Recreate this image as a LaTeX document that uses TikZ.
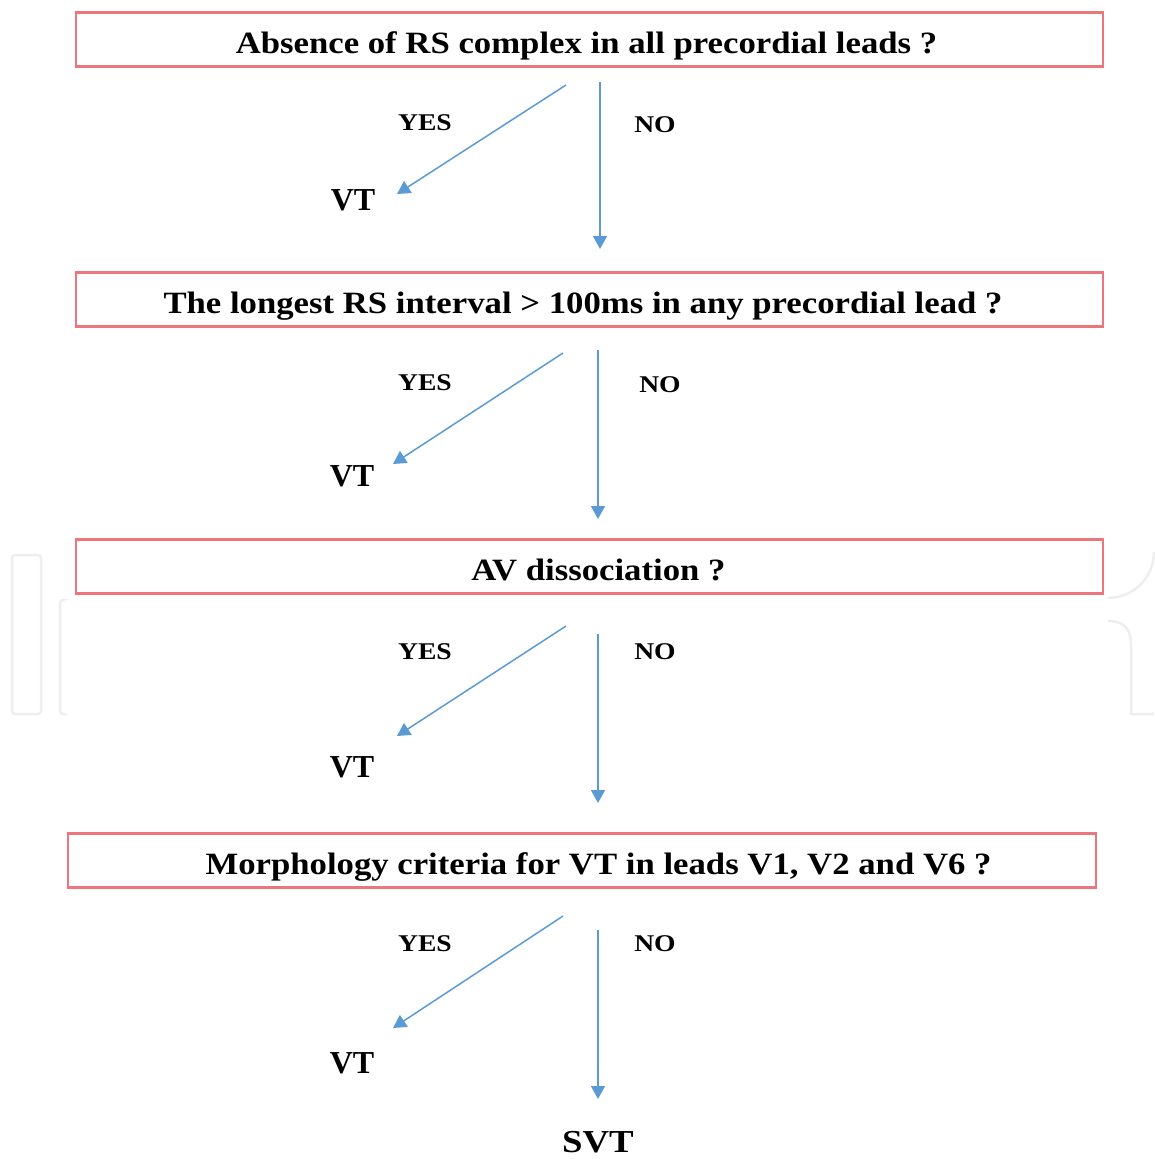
\documentclass[tikz,border=0pt]{standalone}
\usepackage{fontspec}
\setmainfont{Liberation Serif}
\usetikzlibrary{arrows.meta}
\definecolor{boxred}{RGB}{236,118,124}
\definecolor{arrblue}{RGB}{91,155,213}
\definecolor{wmgray}{RGB}{238,238,238}
\newcommand{\qtext}[2]{\rule[-2.6pt]{0pt}{33pt}\hspace*{#1}\smash{\scalebox{1.12}[1]{#2}}}
\newcommand{\wtext}[1]{\scalebox{1.15}[1]{#1}}
\tikzset{
  qbox/.style={draw=boxred, line width=2.4pt, minimum height=54pt, inner sep=0pt,
    font=\fontsize{31}{33}\selectfont\bfseries},
  arr/.style={draw=arrblue, line width=1.5pt, -{Triangle[width=14pt,length=13pt]}},
  lbl/.style={font=\fontsize{24}{26}\selectfont\bfseries, inner sep=0pt},
  res/.style={font=\fontsize{32}{34}\selectfont\bfseries, inner sep=0pt},
  wm/.style={draw=wmgray, line width=2.5pt, rounded corners=3pt}
}
\begin{document}
\begin{tikzpicture}[x=1pt,y=-1pt]
\useasboundingbox (0,0) rectangle (1154,1159);
% faint watermark
\draw[wm] (12,555) rectangle (41,714);
\draw[wm] (62,600) -- (60,600) -- (60,714) -- (62,714);
\draw[wm, rounded corners=0pt] (1108,598) arc[start angle=90, end angle=0, radius=46];
\draw[wm, rounded corners=0pt] (1108,621) .. controls (1125,621) and (1131,630) .. (1131,645) -- (1131,714) -- (1154,714);

% question boxes
\node[qbox, minimum width=1027pt] (q1) at (589.5,39.5) {\qtext{-6pt}{Absence of RS complex in all precordial leads ?}};
\node[qbox, minimum width=1027pt] (q2) at (589.5,299.5) {\qtext{-13pt}{The longest RS interval > 100ms in any precordial lead ?}};
\node[qbox, minimum width=1027pt] (q3) at (589.5,566.5) {\qtext{18pt}{AV dissociation ?}};
\node[qbox, minimum width=1028pt] (q4) at (582,860.5) {\qtext{33pt}{Morphology criteria for VT in leads V1, V2 and V6 ?}};

% results
\node[res] (vt1) at (353,200) {VT};
\node[res] (vt2) at (352,476) {VT};
\node[res] (vt3) at (352,767) {VT};
\node[res] (vt4) at (352,1063) {VT};
\node[res] (svt) at (598,1142) {\wtext{SVT}};

% labels
\node[lbl] (y1) at (425,123) {\wtext{YES}};
\node[lbl] (n1) at (655,125) {\wtext{NO}};
\node[lbl] (y2) at (425,383) {\wtext{YES}};
\node[lbl] (n2) at (660,385) {\wtext{NO}};
\node[lbl] (y3) at (425,652) {\wtext{YES}};
\node[lbl] (n3) at (655,652) {\wtext{NO}};
\node[lbl] (y4) at (425,944) {\wtext{YES}};
\node[lbl] (n4) at (655,944) {\wtext{NO}};

% connector end points
\coordinate (ys1) at (566,85);  \coordinate (ye1) at (397,194);
\coordinate (ns1) at (600,82);  \coordinate (ne1) at (600,249);
\coordinate (ys2) at (563,353); \coordinate (ye2) at (393,464);
\coordinate (ns2) at (598,350); \coordinate (ne2) at (598,519);
\coordinate (ys3) at (566,626); \coordinate (ye3) at (397,736);
\coordinate (ns3) at (598,634); \coordinate (ne3) at (598,803);
\coordinate (ys4) at (563,916); \coordinate (ye4) at (393,1028);
\coordinate (ns4) at (598,930); \coordinate (ne4) at (598,1099);

\draw[arr] (ys1) -- (ye1);
\draw[arr] (ns1) -- (ne1);
\draw[arr] (ys2) -- (ye2);
\draw[arr] (ns2) -- (ne2);
\draw[arr] (ys3) -- (ye3);
\draw[arr] (ns3) -- (ne3);
\draw[arr] (ys4) -- (ye4);
\draw[arr] (ns4) -- (ne4);
\end{tikzpicture}
\end{document}
